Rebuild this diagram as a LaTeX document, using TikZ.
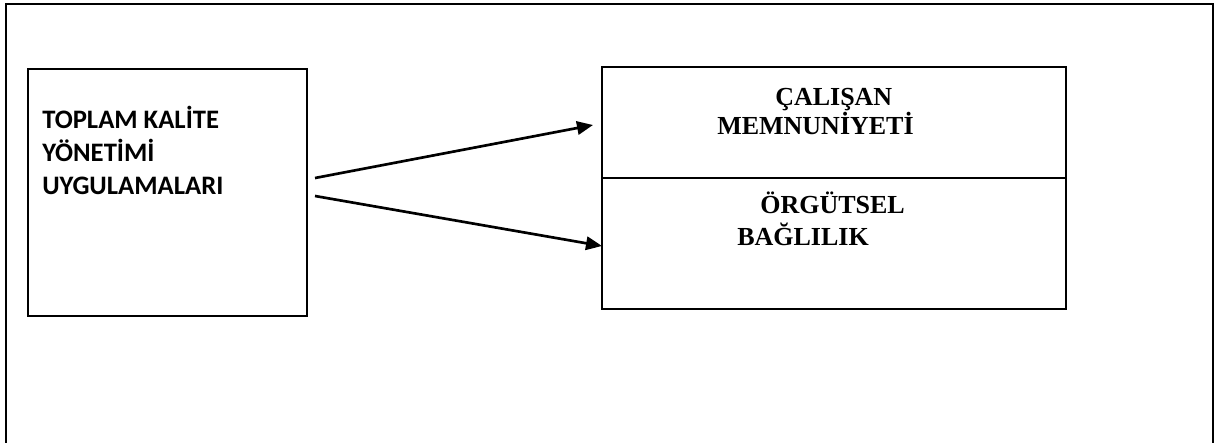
\documentclass[tikz,border=0pt]{standalone}
\usepackage{fontspec}
\setmainfont{Liberation Serif}
\newfontfamily\leftfont{Carlito}
\usetikzlibrary{arrows.meta}
\tikzset{
  frame/.style={line width=2.1pt},
  boxstyle/.style={draw, line width=1.9pt, inner sep=0pt},
  rbox/.style={draw, line width=1.3pt, inner sep=0pt},
  ltext/.style={anchor=base west, inner sep=0pt, font=\leftfont\bfseries\fontsize{20pt}{24pt}\selectfont},
  rtext/.style={anchor=base west, inner sep=0pt, font=\bfseries\fontsize{19.5pt}{24pt}\selectfont},
  arr/.style={line width=2pt, -{Triangle[length=12pt,width=10pt]}}
}
\begin{document}
\begin{tikzpicture}[x=0.75pt,y=-0.75pt]
\useasboundingbox (0,0) rectangle (1215,443);
% outer frame (no bottom edge)
\draw[frame] (6,460) -- (6,4) -- (1213,4) -- (1213,460);
% left box
\node[boxstyle, minimum width=279*0.75pt, minimum height=247*0.75pt] (L) at (167.5,192.5) {};
% right boxes
\node[rbox, minimum width=464*0.75pt, minimum height=111*0.75pt] (T) at (834,122.5) {};
\node[rbox, minimum width=464*0.75pt, minimum height=131*0.75pt] (B) at (834,243.5) {};
% texts
\node[ltext] (l1) at (42,128) {TOPLAM KALİTE};
\node[ltext] (l2) at (42,161) {YÖNETİMİ};
\node[ltext] (l3) at (42,194) {UYGULAMALARI};
\node[rtext] (r1) at (775,105) {ÇALIŞAN};
\node[rtext] (r2) at (717,134) {MEMNUNİYETİ};
\node[rtext] (r3) at (760,213) {ÖRGÜTSEL};
\node[rtext] (r4) at (737,245) {BAĞLILIK};
% arrows
\coordinate (s1) at (315,178);
\coordinate (e1) at (593,125);
\coordinate (s2) at (315,196);
\coordinate (e2) at (602,246);
\draw[arr] (s1) -- (e1);
\draw[arr] (s2) -- (e2);
\end{tikzpicture}
\end{document}
